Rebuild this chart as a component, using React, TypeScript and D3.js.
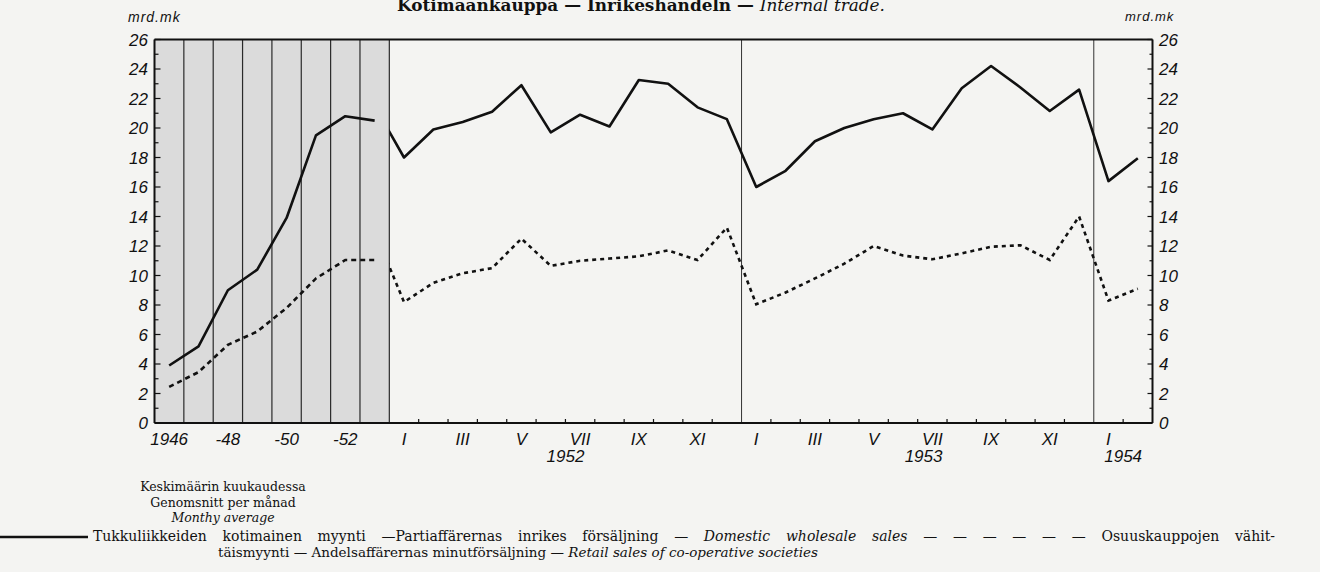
import React, { useLayoutEffect, useRef, useState } from "react";
import * as d3 from "d3";

// ---- Data ----
const annualYears = ["1946", "1947", "1948", "1949", "1950", "1951", "1952", "1953"];
const annualTickLabels = ["1946", "", "-48", "", "-50", "", "-52", ""];
const wholesaleAnnual = [3.9, 5.2, 9.0, 10.4, 13.9, 19.5, 20.8, 20.5];
const retailAnnual = [2.45, 3.45, 5.3, 6.2, 7.8, 9.8, 11.05, 11.05];

// monthly series: first value is XII/1951 (enters the monthly panel), then I/1952 ... II/1954
const monthlyPeriods = [
  "1951-12",
  "1952-01", "1952-02", "1952-03", "1952-04", "1952-05", "1952-06",
  "1952-07", "1952-08", "1952-09", "1952-10", "1952-11", "1952-12",
  "1953-01", "1953-02", "1953-03", "1953-04", "1953-05", "1953-06",
  "1953-07", "1953-08", "1953-09", "1953-10", "1953-11", "1953-12",
  "1954-01", "1954-02",
];
const wholesaleMonthly = [
  21.5,
  18.0, 19.9, 20.4, 21.1, 22.9, 19.7, 20.9, 20.1, 23.25, 23.0, 21.4, 20.6,
  16.0, 17.1, 19.1, 20.0, 20.6, 21.0, 19.9, 22.7, 24.2, 22.75, 21.15, 22.6,
  16.4, 17.95,
];
const retailMonthly = [
  13.0,
  8.2, 9.5, 10.15, 10.5, 12.5, 10.65, 11.0, 11.15, 11.3, 11.7, 11.05, 13.25,
  8.05, 8.85, 9.8, 10.8, 12.0, 11.35, 11.1, 11.5, 11.95, 12.05, 11.05, 14.0,
  8.3, 9.1,
];
const monthLabels = ["I", "", "III", "", "V", "", "VII", "", "IX", "", "XI", ""];
const monthYears = ["1952", "1953", "1954"];
const monthsInYear = [12, 12, 2];
const yTicks = d3.range(0, 27, 2);

const W = 1320;
const H = 572;

const LEGEND1 =
  "Tukkuliikkeiden kotimainen myynti —Partiaffärernas inrikes försäljning — ";
const LEGEND1_IT = "Domestic wholesale sales";
const LEGEND1_END = " — — — — — — Osuuskauppojen vähit-";

export default function App() {
  const nAnnual = annualYears.length;
  const nSlots = nAnnual + d3.sum(monthsInYear);
  const x = d3.scaleLinear().domain([0, nSlots]).range([154.5, 1152.5]);
  const y = d3.scaleLinear().domain([0, 26]).range([423, 39.5]);

  const line = d3
    .line<number>()
    .x((_, i) => x(i + 0.5))
    .y((d) => y(d));
  const mline = d3
    .line<number>()
    .x((_, i) => x(nAnnual - 0.5 + i))
    .y((d) => y(d));

  const axisFont = "'Liberation Sans', Arial, sans-serif";
  const serif = "'DejaVu Serif', 'Liberation Serif', serif";

  // justify legend line 1 to span 93..1275 with word spacing
  const l1Ref = useRef<SVGTextElement>(null);
  const [wordSp, setWordSp] = useState(0);
  useLayoutEffect(() => {
    const el = l1Ref.current;
    if (!el) return;
    const natural = el.getComputedTextLength();
    const full = LEGEND1 + LEGEND1_IT + LEGEND1_END;
    const gaps = (full.match(/ /g) || []).length;
    const target = 1275 - 93;
    if (gaps > 0 && wordSp === 0) setWordSp(Math.max(0, (target - natural) / gaps));
  }, []);

  const yearStarts: number[] = [];
  let acc = nAnnual;
  monthsInYear.forEach((m) => {
    yearStarts.push(acc);
    acc += m;
  });

  const monthTicks: number[] = [];
  const monthLabelEls: { s: number; t: string }[] = [];
  monthsInYear.forEach((m, yi) => {
    for (let k = 0; k < m; k++) {
      const s = yearStarts[yi] + k;
      if (k > 0) monthTicks.push(s);
      if (monthLabels[k]) monthLabelEls.push({ s: s + 0.5, t: monthLabels[k] });
    }
  });
  const yearLabelPos = [yearStarts[0] + 6, yearStarts[1] + 6.2, yearStarts[2] + 1];

  const minor = d3.range(0, 27, 1);
  const x0 = x(0);
  const x1 = x(nSlots);

  return (
    <svg width={W} height={H} style={{ display: "block", position: "absolute", left: 0, top: 0 }}>
      <rect width={W} height={H} fill="#f4f4f2" />
      {/* Title */}
      <text x={397} y={11} fontFamily={serif} fontSize={17} fontWeight="bold" fill="#111" textLength={488} lengthAdjust="spacingAndGlyphs">
        Kotimaankauppa — Inrikeshandeln — <tspan fontStyle="italic" fontWeight="normal">Internal trade.</tspan>
      </text>
      {/* units */}
      <text x={128} y={22} fontFamily={axisFont} fontStyle="italic" fontSize={14} fill="#111" letterSpacing={1}>
        mrd.mk
      </text>
      <text x={1125} y={21} fontFamily={axisFont} fontStyle="italic" fontSize={13} fill="#111" letterSpacing={1}>
        mrd.mk
      </text>

      {/* shaded annual panel */}
      <rect x={x0} y={y(26)} width={x(nAnnual) - x0} height={y(0) - y(26)} fill="#dbdbdb" />
      {d3.range(1, nAnnual + 1).map((s) => (
        <line key={"v" + s} x1={x(s)} x2={x(s)} y1={y(26)} y2={y(0)} stroke="#2a2a2a" strokeWidth={1.2} />
      ))}
      {yearStarts.slice(1).map((s) => (
        <line key={"yb" + s} x1={x(s)} x2={x(s)} y1={y(26)} y2={y(0)} stroke="#333" strokeWidth={1} />
      ))}

      {/* frame */}
      <line x1={x0} x2={x1} y1={y(26)} y2={y(26)} stroke="#111" strokeWidth={2} />
      <line x1={x0} x2={x1} y1={y(0)} y2={y(0)} stroke="#111" strokeWidth={2} />
      <line x1={x0} x2={x0} y1={y(26)} y2={y(0)} stroke="#111" strokeWidth={2} />
      <line x1={x1} x2={x1} y1={y(26)} y2={y(0)} stroke="#111" strokeWidth={2} />

      {/* y ticks */}
      {minor.map((v) => (
        <g key={"t" + v}>
          <line x1={x0} x2={x0 + (v % 2 === 0 ? 6 : 4)} y1={y(v)} y2={y(v)} stroke="#111" strokeWidth={1.2} />
          <line x1={x1} x2={x1 - (v % 2 === 0 ? 5 : 3)} y1={y(v)} y2={y(v)} stroke="#111" strokeWidth={1.2} />
        </g>
      ))}
      {yTicks.map((v) => (
        <g key={"l" + v}>
          <text x={148} y={y(v) + 6} textAnchor="end" fontFamily={axisFont} fontStyle="italic" fontSize={17} fill="#111">
            {v}
          </text>
          <text x={1159} y={y(v) + 6} fontFamily={axisFont} fontStyle="italic" fontSize={17} fill="#111">
            {v}
          </text>
        </g>
      ))}

      {/* month ticks */}
      {monthTicks.map((s) => (
        <line key={"mt" + s} x1={x(s)} x2={x(s)} y1={y(0)} y2={y(0) - 4} stroke="#111" strokeWidth={1.2} />
      ))}

      {/* x labels */}
      {annualTickLabels.map((t, i) =>
        t ? (
          <text key={"al" + i} x={x(i + 0.5)} y={445} textAnchor="middle" fontFamily={axisFont} fontStyle="italic" fontSize={17} fill="#111">
            {t}
          </text>
        ) : null
      )}
      {monthLabelEls.map((m, i) => (
        <text key={"ml" + i} x={x(m.s)} y={445} textAnchor="middle" fontFamily={axisFont} fontStyle="italic" fontSize={17} fill="#111">
          {m.t}
        </text>
      ))}
      {monthYears.map((t, i) => (
        <text key={"yl" + i} x={x(yearLabelPos[i])} y={462} textAnchor="middle" fontFamily={axisFont} fontStyle="italic" fontSize={17} fill="#111">
          {t}
        </text>
      ))}

      {/* data lines */}
      <defs>
        <clipPath id="monthlyClip">
          <rect x={x(nAnnual)} y={0} width={x1 - x(nAnnual)} height={H} />
        </clipPath>
      </defs>
      <path d={line(wholesaleAnnual) || ""} fill="none" stroke="#111" strokeWidth={2.6} strokeLinejoin="round" />
      <path d={line(retailAnnual) || ""} fill="none" stroke="#111" strokeWidth={2.6} strokeDasharray="5,4" />
      <g clipPath="url(#monthlyClip)">
        <path d={mline(wholesaleMonthly) || ""} fill="none" stroke="#111" strokeWidth={2.6} strokeLinejoin="round" />
        <path d={mline(retailMonthly) || ""} fill="none" stroke="#111" strokeWidth={2.6} strokeDasharray="4,4" />
      </g>

      {/* legend */}
      <g fontFamily={serif} fontSize={12.5} fill="#111" textAnchor="middle">
        <text x={223} y={491}>Keskimäärin kuukaudessa</text>
        <text x={223} y={507}>Genomsnitt per månad</text>
        <text x={223} y={522} fontStyle="italic">Monthy average</text>
      </g>
      <line x1={0} x2={88} y1={537} y2={537} stroke="#111" strokeWidth={2.6} />
      <text ref={l1Ref} x={93} y={541} fontFamily={serif} fontSize={14} fill="#111" style={{ wordSpacing: wordSp + "px" }}>
        {LEGEND1}<tspan fontStyle="italic">{LEGEND1_IT}</tspan>{LEGEND1_END}
      </text>
      <text x={218} y={557} fontFamily={serif} fontSize={13.5} fill="#111" textLength={600} lengthAdjust="spacing">
        täismyynti — Andelsaffärernas minutförsäljning — <tspan fontStyle="italic">Retail sales of co-operative societies</tspan>
      </text>
    </svg>
  );
}
